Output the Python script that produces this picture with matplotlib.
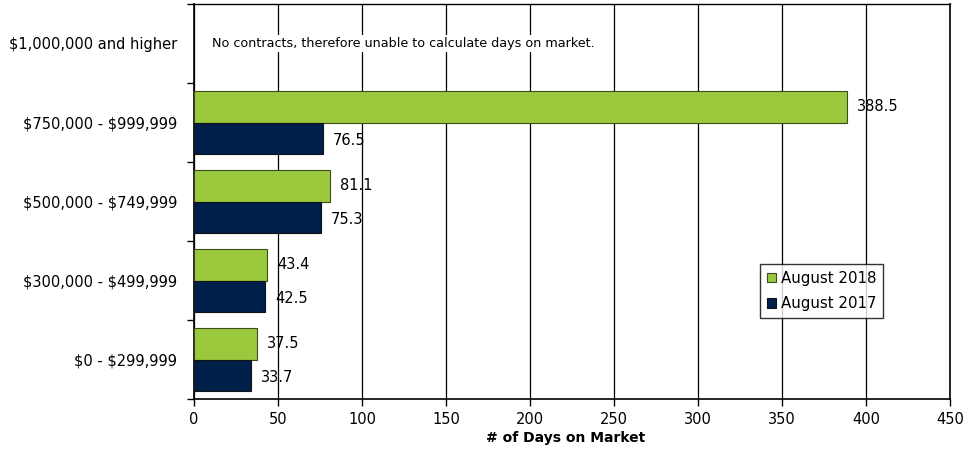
import numpy as np
import matplotlib
matplotlib.use("Agg")
import matplotlib.pyplot as plt

plt.rcParams['font.family'] = ['DejaVu Sans']
plt.rcParams['text.parse_math'] = False

# price ranges, bottom to top
ranges = ['$0 - $299,999', '$300,000 - $499,999', '$500,000 - $749,999',
          '$750,000 - $999,999', '$1,000,000 and higher']
days_2018 = [37.5, 43.4, 81.1, 388.5, None]
days_2017 = [33.7, 42.5, 75.3, 76.5, None]
note = 'No contracts, therefore unable to calculate days on market.'

green = '#9BC93D'
navy = '#00204C'

fig = plt.figure(figsize=(9.64, 4.5), dpi=100)
ax = fig.add_axes([194/964, 1 - 399/450, 756/964, 395/450])

y = np.arange(len(ranges))
h = 0.405
for i in range(len(ranges)):
    if days_2018[i] is None:
        continue
    ax.barh(y[i] + h/2, days_2018[i], height=h, color=green, edgecolor='#3d4a1a',
            linewidth=0.8, zorder=3, label='August 2018' if i == 0 else None)
    ax.barh(y[i] - h/2, days_2017[i], height=h, color=navy, edgecolor='#111111',
            linewidth=0.8, zorder=3, label='August 2017' if i == 0 else None)
    ax.text(days_2018[i] + 6, y[i] + h/2, f'{days_2018[i]:.1f}', va='center',
            ha='left', fontsize=10.5, zorder=4)
    ax.text(days_2017[i] + 6, y[i] - h/2 - 0.02, f'{days_2017[i]:.1f}', va='center',
            ha='left', fontsize=10.5, zorder=4)

ax.text(10.5, 4, note, va='center', ha='left', fontsize=9.2,
        bbox=dict(facecolor='white', edgecolor='none', pad=1.5), zorder=4)

ax.set_xlim(0, 450)
ax.set_ylim(-0.5, len(ranges) - 0.5)
ax.set_xticks(np.arange(0, 451, 50))
ax.tick_params(axis='x', labelsize=10.5, length=5, width=1, direction='out', pad=4)
ax.set_yticks(np.arange(-0.5, len(ranges), 1.0))
ax.set_yticklabels([])
ax.set_yticks(y, minor=True)
ax.set_yticklabels(ranges, minor=True, fontsize=10.5)
ax.tick_params(axis='y', which='major', length=5, width=1)
ax.tick_params(axis='y', which='minor', length=0, pad=12)
ax.xaxis.grid(True, color='black', linewidth=0.9, zorder=0)
ax.set_axisbelow(True)
for s in ax.spines.values():
    s.set_linewidth(1.2)
ax.spines['top'].set_linewidth(1.0)

ax.set_xlabel('# of Days on Market', fontsize=10, fontweight='bold')
ax.xaxis.set_label_coords(372/756, -39/395)
ax.xaxis.label.set_va('center')

handles, labels = ax.get_legend_handles_labels()
leg = ax.legend(handles, labels, loc='upper left', bbox_to_anchor=(566/756, (399-264)/395),
                fontsize=10.8, frameon=True, fancybox=False, edgecolor='black',
                handlelength=0.6, handleheight=0.6, handletextpad=0.35,
                labelspacing=0.7, borderpad=0.45, borderaxespad=0)
leg.get_frame().set_linewidth(1.0)
leg.set_zorder(5)

fig.savefig('out.png', dpi=100)
